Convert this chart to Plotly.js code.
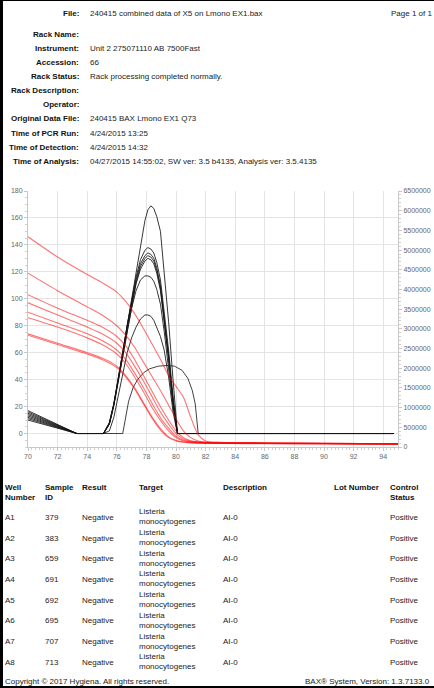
<!DOCTYPE html>
<html>
<head>
<meta charset="utf-8">
<script src="https://cdn.plot.ly/plotly-3.0.1.min.js"></script>
<style>
html,body{margin:0;padding:0;background:#fff;}
#chart{width:434px;height:688px;}
</style>
</head>
<body>
<div id="chart"></div>
<script>
// ---------- Report header ----------
const headerLabels = ["File:", "Rack Name:", "Instrument:", "Accession:", "Rack Status:", "Rack Description:", "Operator:", "Original Data File:", "Time of PCR Run:", "Time of Detection:", "Time of Analysis:"];
const headerValues = ["240415 combined data of X5 on Lmono EX1.bax", "", "Unit 2 275071110 AB 7500Fast", "66", "Rack processing completed normally.", "", "", "240415 BAX Lmono EX1 Q73", "4/24/2015 13:25", "4/24/2015 14:32", "04/27/2015 14:55:02, SW ver: 3.5 b4135, Analysis ver: 3.5.4135"];
const pageText = "Page 1 of 1";

// ---------- Results table ----------
const tableHeaders = ["Well<br>Number", "Sample<br>ID", "Result", "Target", "Description", "Lot Number", "Control<br>Status"];
const wells = ["A1", "A2", "A3", "A4", "A5", "A6", "A7", "A8"];
const sampleIds = ["379", "383", "659", "691", "692", "695", "707", "713"];
const results = ["Negative", "Negative", "Negative", "Negative", "Negative", "Negative", "Negative", "Negative"];
const targets = ["Listeria<br>monocytogenes", "Listeria<br>monocytogenes", "Listeria<br>monocytogenes", "Listeria<br>monocytogenes", "Listeria<br>monocytogenes", "Listeria<br>monocytogenes", "Listeria<br>monocytogenes", "Listeria<br>monocytogenes"];
const descriptions = ["AI-0", "AI-0", "AI-0", "AI-0", "AI-0", "AI-0", "AI-0", "AI-0"];
const lotNumbers = ["", "", "", "", "", "", "", ""];
const controlStatus = ["Positive", "Positive", "Positive", "Positive", "Positive", "Positive", "Positive", "Positive"];
const footerLeft = "Copyright © 2017 Hygiena. All rights reserved.";
const footerRight = "BAX® System, Version: 1.3.7133.0";

// ---------- Melt peak curves (left axis) ----------
const peakTemp = [70, 73.3, 75.1, 75.5, 75.8, 76.1, 76.4, 76.7, 77.0, 77.3, 77.6, 77.9, 78.1, 78.3, 78.5, 78.7, 78.95, 79.2, 79.5, 79.8, 80.1, 94.7];
const peakA1 = [12, 0, 0, 8, 22, 40, 60, 80, 100, 120, 140, 158, 166, 169, 167, 161, 150, 120, 83, 40, 0, 0];
const peakA2 = [15, 0, 0, 8, 22, 40, 60, 80, 99, 116, 129, 136, 138, 137, 134, 127, 114, 92, 62, 28, 0, 0];
const peakA3 = [17, 0, 0, 8, 22, 40, 60, 80, 98, 114, 126, 132, 134, 133, 130, 123, 110, 88, 58, 25, 0, 0];
const peakA4 = [14, 0, 0, 7, 21, 39, 59, 79, 97, 112, 124, 130, 132, 131, 128, 121, 108, 86, 56, 24, 0, 0];
const peakA5 = [13, 0, 0, 7, 21, 39, 58, 78, 96, 111, 122, 128, 130, 129, 126, 119, 106, 84, 55, 22, 0, 0];
const peakA6 = [16, 0, 0, 7, 21, 38, 57, 76, 93, 106, 114, 117, 117, 116, 113, 107, 96, 76, 50, 20, 0, 0];
const peakA7 = [10, 0, 0, 2, 12, 28, 45, 60, 71, 79, 85, 88, 88, 87, 84, 79, 72, 62, 42, 16, 0, 0];
const peakA8Temp = [70, 73.3, 76.4, 76.6, 76.8, 77.1, 77.4, 77.8, 78.2, 78.8, 79.4, 79.9, 80.4, 80.8, 81.1, 81.3, 81.45, 81.5, 94.7];
const peakA8 = [11, 0, 0, 12, 24, 34, 40, 45, 48, 50, 50.5, 50, 47, 41, 32, 22, 8, 0, 0];

// ---------- Melt curves, fluorescence (right axis) ----------
const meltTemp = [70, 72, 74, 75, 76, 76.6, 77.2, 77.8, 78.4, 79.0, 79.5, 80.0, 80.5, 81.0, 81.5, 82.0, 83, 86, 90, 95];
const meltA1 = [5337000, 4824000, 4379000, 4174000, 3934000, 3695000, 3387000, 3011000, 2600000, 2189000, 1813000, 1539000, 1266000, 753000, 308000, 154000, 120000, 103000, 92000, 82000];
const meltA2 = [4413000, 3968000, 3558000, 3353000, 3079000, 2839000, 2532000, 2155000, 1779000, 1403000, 1061000, 718000, 411000, 239000, 154000, 127000, 109000, 103000, 92000, 82000];
const meltA3 = [3866000, 3524000, 3216000, 3045000, 2805000, 2566000, 2224000, 1813000, 1403000, 992000, 684000, 411000, 239000, 161000, 130000, 116000, 106000, 99000, 92000, 79000];
const meltA4 = [3661000, 3353000, 3045000, 2874000, 2634000, 2395000, 2053000, 1676000, 1266000, 855000, 582000, 342000, 205000, 144000, 123000, 113000, 103000, 96000, 89000, 79000];
const meltA5 = [3421000, 3147000, 2874000, 2703000, 2463000, 2224000, 1882000, 1505000, 1095000, 718000, 479000, 274000, 171000, 130000, 116000, 106000, 103000, 96000, 89000, 79000];
const meltA6 = [3284000, 3045000, 2771000, 2600000, 2361000, 2121000, 1779000, 1403000, 992000, 650000, 411000, 239000, 154000, 123000, 109000, 103000, 99000, 92000, 86000, 75000];
const meltA7 = [2874000, 2634000, 2395000, 2258000, 2053000, 1813000, 1505000, 1129000, 753000, 445000, 257000, 171000, 127000, 109000, 103000, 99000, 96000, 89000, 82000, 72000];
const meltA8 = [2839000, 2600000, 2361000, 2224000, 2018000, 1779000, 1471000, 1095000, 718000, 411000, 239000, 154000, 120000, 103000, 96000, 92000, 89000, 82000, 75000, 68000];

// ---------- Geometry (layout) ----------
const W = 434, H = 688;
const M = {l: 28, r: 36, t: 191, b: 241};
const PW = W - M.l - M.r, PH = H - M.t - M.b;
const px = x => (x - M.l) / PW;
const py = y => (H - M.b - y) / PH;
const FONT = "Liberation Sans, Arial, sans-serif";

const annotations = [];
function txt(x, y, text, opt) {
  opt = opt || {};
  annotations.push({
    xref: "paper", yref: "paper", x: px(x), y: py(y), text: text,
    showarrow: false, xanchor: opt.anchor || "left", yanchor: opt.yanchor || "middle",
    align: opt.align || "left", borderpad: 0,
    font: {family: FONT, size: opt.size || 8, color: opt.color || "#222"}
  });
}

// header block
headerLabels.forEach((lab, i) => {
  const y = i === 0 ? 13 : 34 + 14.15 * (i - 1);
  txt(80, y, "<b>" + lab + "</b>", {anchor: "right", align: "right", color: "#111"});
  if (headerValues[i]) txt(89, y, headerValues[i]);
});
txt(433, 13, pageText, {anchor: "right", align: "right"});

// table header
const colX = [4, 44, 81, 137.5, 222, 333, 389];
tableHeaders.forEach((h, j) => {
  const two = h.indexOf("<br>") >= 0;
  txt(colX[j], two ? 492.5 : 487.3, "<b>" + h + "</b>", {color: "#111"});
});
// table rows
wells.forEach((w, i) => {
  const y = 517.3 + 20.72 * i;
  txt(colX[0], y, w);
  txt(colX[1], y, sampleIds[i]);
  txt(colX[2], y, results[i]);
  txt(colX[3], y - 0.5, targets[i]);
  txt(colX[4], y, descriptions[i]);
  if (lotNumbers[i]) txt(colX[5], y, lotNumbers[i]);
  txt(colX[6], y, controlStatus[i]);
});
// footer
txt(4, 681, footerLeft);
txt(304, 681, footerRight);

// page frame
const shapes = [
  {type: "line", xref: "paper", yref: "paper", x0: px(1.5), x1: px(1.5), y0: py(0), y1: py(688), line: {color: "#000", width: 3}},
  {type: "line", xref: "paper", yref: "paper", x0: px(0), x1: px(434), y0: py(0.5), y1: py(0.5), line: {color: "#000", width: 1}},
  {type: "line", xref: "paper", yref: "paper", x0: px(0), x1: px(434), y0: py(687), y1: py(687), line: {color: "#000", width: 2}}
];

// traces
const traces = [];
const meltSeries = [meltA1, meltA2, meltA3, meltA4, meltA5, meltA6, meltA7, meltA8];
meltSeries.forEach((s, i) => {
  traces.push({x: meltTemp, y: s, yaxis: "y2", type: "scatter", mode: "lines",
    name: "Melt " + wells[i], line: {color: "rgba(255,0,0,0.55)", width: 1.1, shape: "spline", smoothing: 0.8},
    hoverinfo: "skip"});
});
const peakSeries = [peakA1, peakA2, peakA3, peakA4, peakA5, peakA6, peakA7];
peakSeries.forEach((s, i) => {
  traces.push({x: peakTemp, y: s, type: "scatter", mode: "lines", name: "Peak " + wells[i],
    line: {color: "rgba(20,20,20,0.85)", width: 1}, hoverinfo: "skip"});
});
traces.push({x: peakA8Temp, y: peakA8, type: "scatter", mode: "lines", name: "Peak A8",
  line: {color: "rgba(20,20,20,0.8)", width: 1}, hoverinfo: "skip"});

const axisCommon = {
  showline: true, linecolor: "#c8c8c8", linewidth: 1,
  ticks: "outside", ticklen: 3, tickcolor: "#c8c8c8",
  tickfont: {family: FONT, size: 7, color: "#666"},
  zeroline: false, fixedrange: true
};

const layout = {
  width: W, height: H,
  margin: M,
  paper_bgcolor: "#fff", plot_bgcolor: "#fff",
  showlegend: false,
  font: {family: FONT},
  xaxis: Object.assign({}, axisCommon, {
    range: [70, 95], tick0: 70, dtick: 2, showgrid: true, gridcolor: "#e4e4e4",
    minor: {dtick: 0.25, ticks: "outside", ticklen: 2, tickcolor: "#d0d0d0", showgrid: false}
  }),
  yaxis: Object.assign({}, axisCommon, {
    range: [-10, 180], tick0: 0, dtick: 20, showgrid: true, gridcolor: "#e4e4e4",
    minor: {dtick: 5, ticks: "outside", ticklen: 2, tickcolor: "#d0d0d0", showgrid: false}
  }),
  yaxis2: Object.assign({}, axisCommon, {
    overlaying: "y", side: "right", range: [0, 6500000], tick0: 0, dtick: 500000,
    tickformat: "d", showgrid: false,
    minor: {dtick: 100000, ticks: "outside", ticklen: 2, tickcolor: "#d0d0d0", showgrid: false}
  }),
  annotations: annotations,
  shapes: shapes
};

Plotly.newPlot("chart", traces, layout, {displayModeBar: false, staticPlot: true});
</script>
</body>
</html>
